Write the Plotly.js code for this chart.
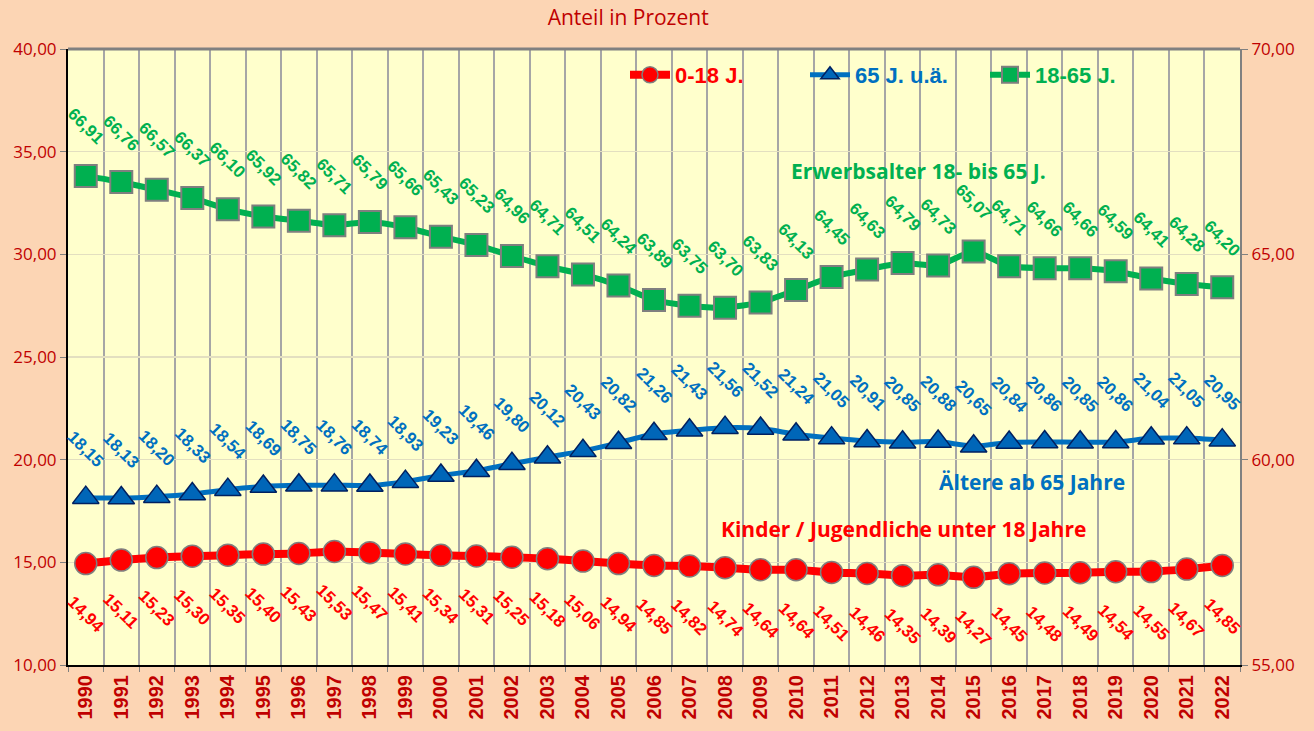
<!DOCTYPE html>
<html>
<head>
<meta charset="utf-8">
<script src="https://cdn.plot.ly/plotly-3.0.1.min.js"></script>
<style>html,body{margin:0;padding:0;background:#FCD5B4;}#chart{width:1314px;height:731px;}</style>
</head>
<body>
<div id="chart"></div>
<script>
const years = ["1990","1991","1992","1993","1994","1995","1996","1997","1998","1999","2000","2001","2002","2003","2004","2005","2006","2007","2008","2009","2010","2011","2012","2013","2014","2015","2016","2017","2018","2019","2020","2021","2022"];
const kinder = [14.94,15.11,15.23,15.30,15.35,15.40,15.43,15.53,15.47,15.41,15.34,15.31,15.25,15.18,15.06,14.94,14.85,14.82,14.74,14.64,14.64,14.51,14.46,14.35,14.39,14.27,14.45,14.48,14.49,14.54,14.55,14.67,14.85];
const aeltere = [18.15,18.13,18.20,18.33,18.54,18.69,18.75,18.76,18.74,18.93,19.23,19.46,19.80,20.12,20.43,20.82,21.26,21.43,21.56,21.52,21.24,21.05,20.91,20.85,20.88,20.65,20.84,20.86,20.85,20.86,21.04,21.05,20.95];
const erwerb = [66.91,66.76,66.57,66.37,66.10,65.92,65.82,65.71,65.79,65.66,65.43,65.23,64.96,64.71,64.51,64.24,63.89,63.75,63.70,63.83,64.13,64.45,64.63,64.79,64.73,65.07,64.71,64.66,64.66,64.59,64.41,64.28,64.20];

const RED = "#FF0000", BLUE = "#0070C0", GREEN = "#00B050", DARKRED = "#C00000";
const fmt = v => v.toFixed(2).replace(".", ",");

const traces = [
  {x: years, y: kinder, name: '<span style="color:#FF0000"><b>0-18 J.</b></span>', type: "scatter", mode: "lines+markers",
   line: {color: RED, width: 8, shape: "spline", smoothing: 0.6},
   marker: {symbol: "circle", size: 22, color: RED, line: {color: "#7F7F7F", width: 1.5}}},
  {x: years, y: aeltere, name: '<span style="color:#0070C0"><b>65 J. u.ä.</b></span>', type: "scatter", mode: "lines+markers",
   line: {color: BLUE, width: 5, shape: "spline", smoothing: 0.6},
   marker: {symbol: "triangle-up", size: 23, color: "#0066B8", line: {color: "#002060", width: 1.5}}},
  {x: years, y: erwerb, yaxis: "y2", name: '<span style="color:#00B050"><b>18-65 J.</b></span>', type: "scatter", mode: "lines+markers",
   line: {color: GREEN, width: 6, shape: "spline", smoothing: 0.6},
   marker: {symbol: "square", size: 22, color: GREEN, line: {color: "#7F7F7F", width: 2}}}
];

const labelFont = c => ({family: "Liberation Sans, Arial, sans-serif", size: 17, color: c});
const annotations = [];
years.forEach((yr, i) => {
  annotations.push({x: i, y: erwerb[i], xref: "x", yref: "y2", text: "<b>" + fmt(erwerb[i]) + "</b>", showarrow: false, textangle: 45, yshift: 49, font: labelFont(GREEN)});
  annotations.push({x: i, y: aeltere[i], xref: "x", yref: "y", text: "<b>" + fmt(aeltere[i]) + "</b>", showarrow: false, textangle: 45, yshift: 48, font: labelFont(BLUE)});
  annotations.push({x: i, y: kinder[i], xref: "x", yref: "y", text: "<b>" + fmt(kinder[i]) + "</b>", showarrow: false, textangle: 45, yshift: -51, font: labelFont(RED)});
});
const noteFont = c => ({family: "Open Sans, Noto Sans, sans-serif", size: 21, color: c});
annotations.push({xref: "paper", yref: "paper", x: (918-68)/1172, y: (665-171)/616, xanchor: "center", yanchor: "middle", text: "<b>Erwerbsalter 18- bis 65 J.</b>", showarrow: false, font: noteFont(GREEN)});
annotations.push({xref: "paper", yref: "paper", x: (1032-68)/1172, y: (665-482)/616, xanchor: "center", yanchor: "middle", text: "<b>Ältere ab 65 Jahre</b>", showarrow: false, font: noteFont(BLUE)});
annotations.push({xref: "paper", yref: "paper", x: (903-68)/1172, y: (665-529)/616, xanchor: "center", yanchor: "middle", text: "<b>Kinder / Jugendliche unter 18 Jahre</b>", showarrow: false, font: noteFont(RED)});

const layout = {
  width: 1314, height: 731,
  paper_bgcolor: "#FCD5B4", plot_bgcolor: "#FFFFCC",
  separators: ",.",
  margin: {l: 68, r: 74, t: 49, b: 66},
  showlegend: true,
  hovermode: false,
  title: {text: "Anteil in Prozent", x: 628/1314, xanchor: "center", xref: "paper", y: 1 - 18/731, yanchor: "middle", yref: "container",
          font: {family: "Open Sans, Noto Sans, sans-serif", size: 21, color: DARKRED}},
  legend: {orientation: "h", x: (625-68)/1172, xanchor: "left", y: (665-75)/616, yanchor: "middle",
           bgcolor: "rgba(0,0,0,0)", font: {family: "Liberation Sans, Arial, sans-serif", size: 22}, entrywidth: 125, itemwidth: 40},
  xaxis: {type: "category", range: [-0.5, years.length - 0.5], autorange: false, tickson: "boundaries", showgrid: true, gridcolor: "#A6A6A6", gridwidth: 2,
          showline: true, linecolor: "#000000", linewidth: 2, ticks: "outside", ticklen: 5, tickcolor: "#808080", tickwidth: 1,
          tickangle: -90, tickfont: {family: "Liberation Sans, Arial, sans-serif", size: 20, color: DARKRED, weight: "bold"},
          zeroline: false, fixedrange: true},
  yaxis: {range: [10, 40], dtick: 5, tick0: 10, tickformat: ".2f", showgrid: true, gridcolor: "#E3DFC0", gridwidth: 1.5,
          showline: true, linecolor: "#000000", linewidth: 2, ticks: "outside", ticklen: 6, tickcolor: "#808080",
          tickfont: {family: "Open Sans, Noto Sans, sans-serif", size: 17, color: DARKRED}, zeroline: false, fixedrange: true},
  yaxis2: {range: [55, 70], dtick: 5, tick0: 55, tickformat: ".2f", overlaying: "y", side: "right", showgrid: false,
           showline: true, linecolor: "#808080", linewidth: 2, ticks: "outside", ticklen: 6, tickcolor: "#808080",
           tickfont: {family: "Open Sans, Noto Sans, sans-serif", size: 17, color: DARKRED}, zeroline: false, fixedrange: true},
  shapes: [{type: "line", xref: "paper", yref: "paper", x0: 0, x1: 1, y0: 1, y1: 1, line: {color: "#808080", width: 3}, layer: "above"}],
  annotations: annotations
};

Plotly.newPlot("chart", traces, layout, {displayModeBar: false, staticPlot: true});
</script>
</body>
</html>
